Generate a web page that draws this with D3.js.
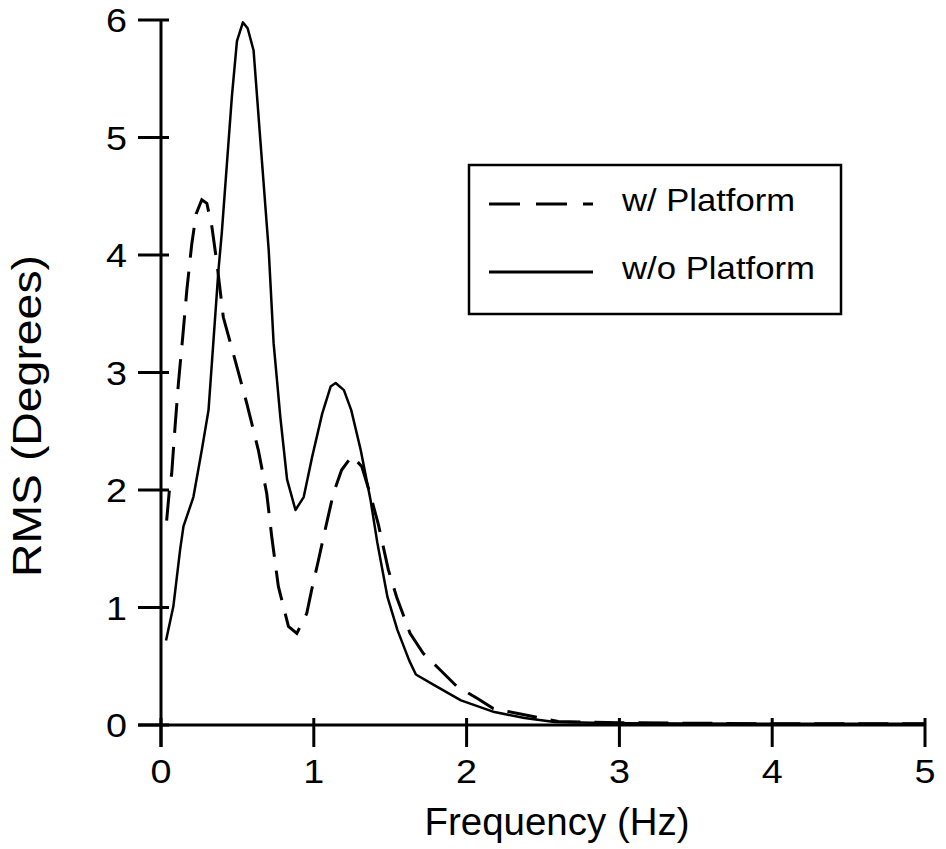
<!DOCTYPE html>
<html>
<head>
<meta charset="utf-8">
<script src="https://cdn.jsdelivr.net/npm/d3@7"></script>
<style>
  body { margin: 0; background: #fff; }
  text { font-family: "Liberation Sans", Arial, sans-serif; fill: #000; }
</style>
</head>
<body>
<div id="chart"></div>
<script>
// Series: frequency (Hz) and RMS (degrees)
var withFreq = [0.037, 0.055, 0.070, 0.092, 0.114, 0.142, 0.169, 0.201, 0.230, 0.267, 0.300, 0.333, 0.366, 0.408, 0.484, 0.561, 0.637, 0.692, 0.725, 0.768, 0.801, 0.834, 0.889, 0.954, 0.986, 1.030, 1.074, 1.128, 1.182, 1.250, 1.314, 1.368, 1.422, 1.488, 1.542, 1.630, 1.716, 1.826, 1.935, 2.066, 2.175, 2.328, 2.480, 2.600, 3.000, 4.000, 5.000];
var withRms  = [1.74, 2.00, 2.14, 2.54, 2.91, 3.30, 3.70, 4.09, 4.35, 4.47, 4.44, 4.24, 3.93, 3.47, 3.11, 2.74, 2.34, 1.97, 1.60, 1.18, 1.01, 0.84, 0.78, 0.95, 1.15, 1.40, 1.66, 1.97, 2.17, 2.29, 2.20, 1.97, 1.71, 1.32, 1.09, 0.78, 0.61, 0.47, 0.33, 0.23, 0.14, 0.10, 0.06, 0.03, 0.02, 0.01, 0.01];

var withoutFreq = [0.033, 0.081, 0.125, 0.147, 0.212, 0.267, 0.311, 0.339, 0.376, 0.398, 0.464, 0.497, 0.536, 0.567, 0.606, 0.650, 0.705, 0.737, 0.781, 0.825, 0.880, 0.934, 0.989, 1.055, 1.110, 1.143, 1.197, 1.245, 1.307, 1.372, 1.416, 1.482, 1.547, 1.624, 1.668, 1.788, 1.963, 2.182, 2.379, 2.576, 3.000, 4.000, 5.000];
var withoutRms  = [0.72, 1.01, 1.49, 1.69, 1.94, 2.34, 2.68, 3.19, 3.87, 4.19, 5.35, 5.82, 5.98, 5.93, 5.74, 4.98, 4.04, 3.25, 2.62, 2.09, 1.83, 1.94, 2.28, 2.65, 2.88, 2.91, 2.85, 2.68, 2.34, 1.91, 1.55, 1.09, 0.81, 0.55, 0.43, 0.34, 0.21, 0.11, 0.06, 0.025, 0.015, 0.01, 0.01];

var xTicks = [0, 1, 2, 3, 4, 5];
var yTicks = [0, 1, 2, 3, 4, 5, 6];
var seriesNames = ["w/ Platform", "w/o Platform"];

var width = 946, height = 849;

var svg = d3.select("#chart")
    .append("svg")
    .attr("width", width)
    .attr("height", height);

svg.append("rect").attr("width", width).attr("height", height).attr("fill", "#fff");

// Scales
var x = d3.scaleLinear().domain([0, 5]).range([161, 925]);
var y = d3.scaleLinear().domain([0, 6]).range([725, 20]);

// Axis lines
svg.append("line")
    .attr("x1", x(0)).attr("x2", x(0))
    .attr("y1", y(6)).attr("y2", y(0) + 22)
    .attr("stroke", "#000").attr("stroke-width", 3);
svg.append("line")
    .attr("x1", x(0) - 23).attr("x2", x(5) + 1)
    .attr("y1", y(0)).attr("y2", y(0))
    .attr("stroke", "#000").attr("stroke-width", 3);

// Y ticks + labels (digits in the picture are a bit wide, so stretch them)
var yt = svg.append("g").selectAll("g").data(yTicks).enter().append("g");
yt.append("line")
    .attr("x1", x(0) - 23).attr("x2", x(0) + 8)
    .attr("y1", d => y(d)).attr("y2", d => y(d))
    .attr("stroke", "#000").attr("stroke-width", 3);
yt.append("text")
    .attr("x", 127)
    .attr("y", d => y(d) + 12)
    .attr("text-anchor", "end")
    .attr("textLength", 21).attr("lengthAdjust", "spacingAndGlyphs")
    .style("font-size", "34px")
    .text(d => d);

// X ticks + labels
var xt = svg.append("g").selectAll("g").data(xTicks).enter().append("g");
xt.append("line")
    .attr("x1", d => x(d)).attr("x2", d => x(d))
    .attr("y1", y(0) - 7).attr("y2", y(0) + 22)
    .attr("stroke", "#000").attr("stroke-width", 3);
xt.append("text")
    .attr("x", d => x(d))
    .attr("y", 783)
    .attr("text-anchor", "middle")
    .attr("textLength", 21).attr("lengthAdjust", "spacingAndGlyphs")
    .style("font-size", "34px")
    .text(d => d);

// Axis titles
svg.append("text")
    .attr("x", 557).attr("y", 835)
    .attr("text-anchor", "middle")
    .attr("textLength", 265).attr("lengthAdjust", "spacingAndGlyphs")
    .style("font-size", "38px")
    .text("Frequency (Hz)");

svg.append("text")
    .attr("transform", "translate(41,416) rotate(-90)")
    .attr("text-anchor", "middle")
    .attr("textLength", 322).attr("lengthAdjust", "spacingAndGlyphs")
    .style("font-size", "41px")
    .text("RMS (Degrees)");

// Lines
var line = d3.line()
    .x(d => x(d[0]))
    .y(d => y(d[1]));

var withData = withFreq.map((f, i) => [f, withRms[i]]);
var withoutData = withoutFreq.map((f, i) => [f, withoutRms[i]]);

svg.append("path")
    .datum(withoutData)
    .attr("d", line)
    .attr("fill", "none")
    .attr("stroke", "#000")
    .attr("stroke-width", 2.5)
    .attr("stroke-linejoin", "round");

svg.append("path")
    .datum(withData)
    .attr("d", line)
    .attr("fill", "none")
    .attr("stroke", "#000")
    .attr("stroke-width", 3)
    .attr("stroke-dasharray", "30,14");

// Legend
var legend = svg.append("g");
legend.append("rect")
    .attr("x", 469).attr("y", 165)
    .attr("width", 372).attr("height", 149)
    .attr("fill", "#fff")
    .attr("stroke", "#000").attr("stroke-width", 2.5);

var legendY = [204, 272];
legend.selectAll(".lg-line").data(seriesNames).enter().append("line")
    .attr("x1", 489).attr("x2", 593)
    .attr("y1", (d, i) => legendY[i]).attr("y2", (d, i) => legendY[i])
    .attr("stroke", "#000")
    .attr("stroke-width", 3)
    .attr("stroke-dasharray", (d, i) => i === 0 ? "31,16" : null);

legend.selectAll(".lg-text").data(seriesNames).enter().append("text")
    .attr("x", 622)
    .attr("y", (d, i) => legendY[i] + 7)
    .attr("textLength", (d, i) => i === 0 ? 173 : 193)
    .attr("lengthAdjust", "spacingAndGlyphs")
    .style("font-size", "32px")
    .text(d => d);
</script>
</body>
</html>
